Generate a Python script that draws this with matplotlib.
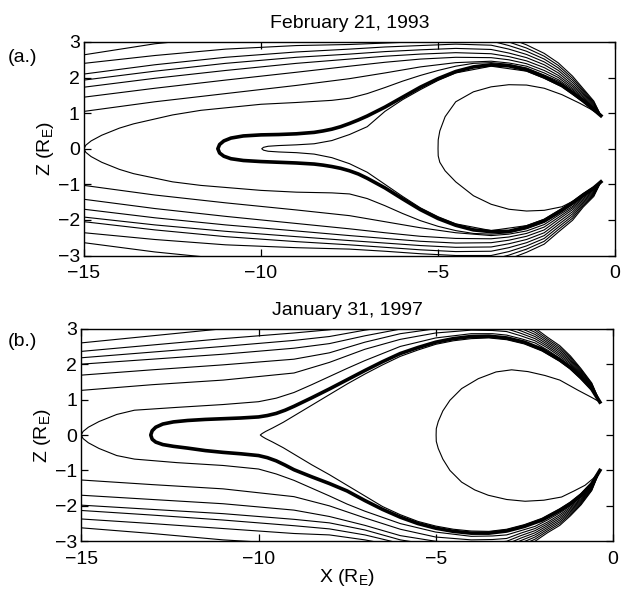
import matplotlib
matplotlib.use("Agg")
import matplotlib.pyplot as plt

plt.rcParams['font.family'] = ['Liberation Sans', 'DejaVu Sans']
plt.rcParams['mathtext.fontset'] = 'custom'
plt.rcParams['mathtext.rm'] = 'Liberation Sans'

# ---------------- panel (a) : February 21, 1993 ----------------
# open / stretched lines, z read on a common x grid (values > 3 are off the frame)
xa_grid = [-15, -13, -11, -9, -7.5, -6.5, -5.5, -4.5, -3.5, -3.0, -2.5, -2.0, -1.6, -1.2, -0.9, -0.6, -0.4]
a_upper = [
    [1.05, 1.32, 1.55, 1.78, 1.97, 2.13, 2.30, 2.42, 2.46, 2.41, 2.32, 2.13, 1.94, 1.66, 1.41, 1.14, 0.93],
    [1.45, 1.70, 1.93, 2.15, 2.32, 2.43, 2.52, 2.57, 2.56, 2.50, 2.39, 2.20, 2.00, 1.70, 1.45, 1.16, 0.93],
    [1.73, 1.98, 2.20, 2.40, 2.52, 2.60, 2.66, 2.70, 2.67, 2.59, 2.47, 2.28, 2.06, 1.75, 1.49, 1.19, 0.93],
    [1.93, 2.18, 2.40, 2.57, 2.66, 2.73, 2.78, 2.82, 2.79, 2.69, 2.56, 2.36, 2.13, 1.80, 1.53, 1.22, 0.93],
    [2.10, 2.36, 2.57, 2.72, 2.80, 2.86, 2.90, 2.94, 2.91, 2.80, 2.65, 2.44, 2.20, 1.86, 1.57, 1.25, 0.93],
    [2.40, 2.62, 2.80, 2.90, 2.93, 2.97, 3.01, 3.05, 3.03, 2.90, 2.74, 2.52, 2.27, 1.92, 1.61, 1.28, 0.93],
    [2.64, 2.95, 3.15, 3.20, 3.20, 3.20, 3.20, 3.18, 3.15, 3.00, 2.83, 2.60, 2.34, 1.98, 1.65, 1.31, 0.93],
    [3.40, 3.40, 3.40, 3.40, 3.40, 3.40, 3.38, 3.32, 3.27, 3.11, 2.92, 2.68, 2.41, 2.04, 1.69, 1.34, 0.93],
]
a_lower = [
    [-1.03, -1.30, -1.52, -1.72, -1.88, -2.05, -2.22, -2.36, -2.44, -2.40, -2.31, -2.13, -1.87, -1.62, -1.36, -1.14, -0.93],
    [-1.42, -1.68, -1.90, -2.10, -2.25, -2.36, -2.46, -2.52, -2.53, -2.48, -2.38, -2.20, -1.93, -1.66, -1.40, -1.16, -0.93],
    [-1.70, -1.94, -2.14, -2.31, -2.44, -2.52, -2.60, -2.65, -2.64, -2.57, -2.46, -2.28, -1.99, -1.71, -1.44, -1.19, -0.93],
    [-1.92, -2.14, -2.32, -2.47, -2.58, -2.65, -2.72, -2.77, -2.76, -2.67, -2.55, -2.36, -2.06, -1.77, -1.48, -1.22, -0.93],
    [-2.05, -2.28, -2.47, -2.61, -2.70, -2.77, -2.84, -2.89, -2.88, -2.78, -2.64, -2.44, -2.13, -1.83, -1.52, -1.25, -0.93],
    [-2.36, -2.55, -2.70, -2.78, -2.82, -2.88, -2.95, -3.00, -3.00, -2.89, -2.73, -2.52, -2.20, -1.89, -1.56, -1.28, -0.93],
    [-2.64, -2.90, -3.10, -3.20, -3.20, -3.20, -3.20, -3.18, -3.12, -2.99, -2.82, -2.60, -2.27, -1.95, -1.60, -1.31, -0.93],
    [-3.40, -3.40, -3.40, -3.40, -3.40, -3.40, -3.38, -3.32, -3.25, -3.10, -2.91, -2.68, -2.34, -2.01, -1.64, -1.34, -0.93],
]
# line that closes at the left edge
a_cusp_x = [-15, -14.95, -14.8, -14.5, -14, -13.6, -12.5, -11.7, -10, -9, -8, -7.5, -7, -6.5,
            -6, -5.5, -5, -4.5, -4, -3.5, -3, -2.5, -2.0, -1.6, -1.2, -0.9, -0.6, -0.4]
a_cusp_up = [0, 0.10, 0.22, 0.38, 0.58, 0.70, 0.95, 1.08, 1.25, 1.30, 1.36, 1.42, 1.55, 1.72,
             1.90, 2.06, 2.20, 2.32, 2.40, 2.42, 2.37, 2.27, 2.07, 1.90, 1.62, 1.38, 1.12, 0.93]
a_cusp_lo = [0, -0.10, -0.22, -0.38, -0.58, -0.70, -0.93, -1.03, -1.17, -1.22, -1.24, -1.27, -1.40, -1.60,
             -1.82, -2.02, -2.18, -2.30, -2.38, -2.40, -2.36, -2.25, -2.07, -1.83, -1.57, -1.34, -1.12, -0.93]
# thick line
a_thick_x = [-11.22, -11.17, -11.05, -10.85, -10.5, -10, -9.5, -9, -8.5, -8.25, -8, -7.75, -7.5, -7.25, -7,
             -6.5, -6, -5.5, -5, -4.5, -4, -3.5, -3, -2.5, -2, -1.5, -1.2, -0.9, -0.6, -0.4]
a_thick_up = [0, 0.12, 0.22, 0.30, 0.36, 0.39, 0.40, 0.42, 0.46, 0.50, 0.55, 0.62, 0.71, 0.81, 0.92,
              1.17, 1.45, 1.73, 1.97, 2.17, 2.30, 2.36, 2.33, 2.22, 2.02, 1.78, 1.57, 1.35, 1.10, 0.93]
a_thick_lo = [0, -0.12, -0.21, -0.28, -0.33, -0.36, -0.38, -0.40, -0.43, -0.46, -0.50, -0.55, -0.62, -0.71, -0.83,
              -1.10, -1.41, -1.71, -1.96, -2.15, -2.28, -2.33, -2.32, -2.20, -2.02, -1.72, -1.52, -1.30, -1.10, -0.93]
# thin line just inside the thick one
a_thin_x = [-9.98, -9.93, -9.8, -9.5, -9.0, -8.5, -8.0, -7.5, -7.0, -6.5, -6.0, -5.5, -5.0, -4.5,
            -3.5, -2.5, -2.0, -1.5, -1.2, -0.9, -0.6, -0.4]
a_thin_up = [0, 0.04, 0.07, 0.09, 0.11, 0.14, 0.23, 0.40, 0.62, 1.05, 1.38, 1.66, 1.92, 2.13,
             2.32, 2.18, 1.98, 1.74, 1.53, 1.31, 1.07, 0.93]
a_thin_lo = [0, -0.04, -0.07, -0.09, -0.11, -0.15, -0.25, -0.42, -0.66, -1.00, -1.34, -1.66, -1.91, -2.11,
             -2.30, -2.16, -1.98, -1.68, -1.48, -1.26, -1.07, -0.93]
# dipolar loop near the Earth
a_loop_x = [-0.4, -0.7, -1.0, -1.5, -2.0, -2.5, -3.0, -3.5, -4.0, -4.5, -4.8, -4.95, -4.995, -5.0,
            -4.995, -4.95, -4.8, -4.5, -4.0, -3.5, -3.0, -2.5, -2.0, -1.5, -1.0, -0.7, -0.4]
a_loop_z = [0.93, 1.12, 1.28, 1.52, 1.70, 1.79, 1.80, 1.74, 1.60, 1.32, 0.90, 0.50, 0.25, 0.0,
            -0.20, -0.38, -0.62, -0.93, -1.32, -1.56, -1.70, -1.75, -1.73, -1.63, -1.38, -1.16, -0.93]

# ---------------- panel (b) : January 31, 1997 ----------------
xb_grid = [-15, -13, -11, -9, -8, -7, -6, -5, -4, -3.4, -3, -2.6, -2.2, -1.85, -1.5, -1.2, -0.9, -0.6, -0.37]
b_upper = [
    [1.26, 1.42, 1.55, 1.75, 2.05, 2.42, 2.70, 2.88, 2.96, 2.95, 2.92, 2.80, 2.66, 2.46, 2.22, 1.99, 1.69, 1.35, 0.93],
    [1.69, 1.84, 1.98, 2.14, 2.32, 2.62, 2.86, 3.00, 3.06, 3.04, 3.00, 2.87, 2.72, 2.51, 2.27, 2.03, 1.72, 1.37, 0.93],
    [2.00, 2.14, 2.28, 2.45, 2.58, 2.80, 2.99, 3.12, 3.16, 3.13, 3.08, 2.94, 2.78, 2.56, 2.32, 2.07, 1.75, 1.39, 0.93],
    [2.18, 2.34, 2.50, 2.67, 2.78, 2.96, 3.10, 3.22, 3.26, 3.22, 3.16, 3.01, 2.84, 2.61, 2.37, 2.11, 1.78, 1.41, 0.93],
    [2.36, 2.54, 2.72, 2.88, 2.97, 3.10, 3.20, 3.30, 3.35, 3.30, 3.24, 3.08, 2.90, 2.66, 2.42, 2.15, 1.81, 1.43, 0.93],
    [2.60, 2.80, 3.00, 3.12, 3.20, 3.30, 3.35, 3.40, 3.42, 3.38, 3.32, 3.15, 2.96, 2.71, 2.47, 2.19, 1.84, 1.45, 0.93],
    [3.40, 3.40, 3.40, 3.40, 3.40, 3.40, 3.45, 3.50, 3.50, 3.47, 3.40, 3.22, 3.02, 2.76, 2.52, 2.23, 1.87, 1.47, 0.93],
]
b_lower = [
    [-1.27, -1.40, -1.52, -1.74, -2.00, -2.34, -2.66, -2.88, -2.96, -2.95, -2.92, -2.77, -2.64, -2.46, -2.25, -2.04, -1.79, -1.45, -1.0],
    [-1.70, -1.82, -1.94, -2.12, -2.30, -2.55, -2.84, -3.00, -3.06, -3.04, -3.00, -2.84, -2.70, -2.51, -2.30, -2.08, -1.82, -1.47, -1.0],
    [-1.98, -2.10, -2.22, -2.38, -2.48, -2.68, -2.96, -3.12, -3.16, -3.13, -3.08, -2.91, -2.76, -2.56, -2.35, -2.12, -1.85, -1.49, -1.0],
    [-2.13, -2.26, -2.40, -2.56, -2.65, -2.82, -3.06, -3.20, -3.26, -3.22, -3.16, -2.98, -2.82, -2.61, -2.40, -2.16, -1.88, -1.51, -1.0],
    [-2.37, -2.50, -2.64, -2.78, -2.82, -2.96, -3.15, -3.30, -3.35, -3.30, -3.24, -3.05, -2.88, -2.66, -2.45, -2.20, -1.91, -1.53, -1.0],
    [-2.62, -2.78, -2.96, -3.08, -3.15, -3.25, -3.35, -3.40, -3.42, -3.38, -3.32, -3.12, -2.94, -2.71, -2.50, -2.24, -1.94, -1.55, -1.0],
    [-3.40, -3.40, -3.40, -3.40, -3.40, -3.40, -3.45, -3.50, -3.50, -3.47, -3.40, -3.19, -3.00, -2.76, -2.55, -2.28, -1.97, -1.57, -1.0],
]
b_cusp_x = [-15, -14.95, -14.8, -14.5, -14, -13.5, -12.3, -11, -10, -9.5, -9, -8.5, -8, -7.5, -7,
            -6, -5, -4, -3.4, -3, -2.6, -2.2, -1.85, -1.5, -1.2, -0.9, -0.6, -0.37]
b_cusp_up = [0, 0.10, 0.22, 0.38, 0.58, 0.70, 0.78, 0.86, 0.94, 1.04, 1.20, 1.42, 1.65, 1.88, 2.10,
             2.50, 2.74, 2.86, 2.86, 2.82, 2.72, 2.60, 2.40, 2.17, 1.95, 1.66, 1.33, 0.93]
b_cusp_lo = [0, -0.10, -0.22, -0.38, -0.58, -0.68, -0.78, -0.86, -0.96, -1.10, -1.28, -1.50, -1.72, -1.95, -2.15,
             -2.50, -2.74, -2.86, -2.85, -2.82, -2.70, -2.58, -2.40, -2.20, -2.00, -1.75, -1.42, -1.0]
b_thick_x = [-13.04, -13.0, -12.9, -12.7, -12.4, -12, -11.5, -11, -10.5, -10, -9.75, -9.5, -9.25, -9, -8.5, -8, -7.5,
             -7, -6.5, -6, -5.5, -5, -4.5, -4, -3.5, -3, -2.5, -2, -1.5, -1.2, -0.9, -0.6, -0.37]
b_thick_up = [0, 0.12, 0.22, 0.31, 0.37, 0.41, 0.44, 0.46, 0.48, 0.51, 0.55, 0.61, 0.70, 0.81, 1.05, 1.30, 1.56,
              1.82, 2.07, 2.30, 2.47, 2.62, 2.72, 2.78, 2.79, 2.74, 2.62, 2.42, 2.12, 1.90, 1.62, 1.30, 0.93]
b_thick_lo = [0, -0.12, -0.20, -0.27, -0.32, -0.37, -0.44, -0.49, -0.53, -0.58, -0.64, -0.73, -0.85, -0.98, -1.18, -1.37, -1.58,
              -1.85, -2.10, -2.32, -2.50, -2.63, -2.72, -2.77, -2.77, -2.71, -2.58, -2.40, -2.13, -1.94, -1.70, -1.38, -1.0]
b_thin_x = [-9.95, -9.9, -9.8, -9.6, -9.3, -9.0, -8.5, -8.0, -7.5, -7.0, -6.5, -6.0, -5.5, -5.0, -4.5,
            -4.0, -3.5, -3.0, -2.5, -2.0, -1.5, -1.2, -0.9, -0.6, -0.37]
b_thin_up = [0, 0.04, 0.10, 0.20, 0.36, 0.54, 0.84, 1.14, 1.44, 1.72, 1.98, 2.22, 2.40, 2.56, 2.66,
             2.72, 2.74, 2.69, 2.57, 2.37, 2.08, 1.86, 1.58, 1.27, 0.93]
b_thin_lo = [0, -0.04, -0.10, -0.20, -0.36, -0.54, -0.84, -1.12, -1.42, -1.72, -2.02, -2.25, -2.44, -2.57, -2.66,
             -2.71, -2.72, -2.66, -2.53, -2.35, -2.08, -1.89, -1.65, -1.34, -1.0]
b_loop_x = [-0.37, -0.6, -0.98, -1.5, -1.92, -2.4, -2.86, -3.3, -3.8, -4.27, -4.6, -4.8, -4.93, -4.985, -4.99,
            -4.985, -4.93, -4.8, -4.6, -4.27, -3.9, -3.52, -3.0, -2.48, -1.95, -1.45, -1.1, -0.79, -0.55, -0.37]
b_loop_z = [0.93, 1.06, 1.26, 1.55, 1.68, 1.79, 1.84, 1.78, 1.59, 1.31, 0.98, 0.68, 0.38, 0.18, 0.0,
            -0.18, -0.38, -0.68, -1.00, -1.33, -1.55, -1.70, -1.82, -1.87, -1.84, -1.75, -1.58, -1.42, -1.22, -1.0]

THIN = 0.8
THICK = 2.6
FS = 14


def closed(x, up, lo):
    # upper branch reversed + lower branch -> one path through the nose
    return list(x[::-1]) + list(x[1:]), list(up[::-1]) + list(lo[1:])


def draw_panel(ax, grid, upper, lower, cx, cup, clo, tx, tup, tlo, nx, nup, nlo, lx, lz):
    for z in upper + lower:
        ax.plot(grid, z, color='k', lw=THIN)
    px, pz = closed(cx, cup, clo)
    ax.plot(px, pz, color='k', lw=THIN)
    px, pz = closed(nx, nup, nlo)
    ax.plot(px, pz, color='k', lw=THIN)
    ax.plot(lx, lz, color='k', lw=THIN)
    px, pz = closed(tx, tup, tlo)
    ax.plot(px, pz, color='k', lw=THICK, solid_joinstyle='round')

    ax.set_xlim(-15, 0)
    ax.set_ylim(-3, 3)
    ax.set_xticks([-15, -10, -5, 0])
    ax.set_yticks([-3, -2, -1, 0, 1, 2, 3])
    ax.tick_params(direction='in', top=True, right=True, length=5, width=0.9, labelsize=FS)
    ax.tick_params(axis='x', pad=7)
    ax.tick_params(axis='y', pad=3)
    for s in ax.spines.values():
        s.set_linewidth(1.0)
    ax.set_ylabel('Z (R$_\\mathrm{E}$)', fontsize=FS, labelpad=1)


fig = plt.figure(figsize=(6.21, 5.89), dpi=100)
ax1 = fig.add_axes([0.1353, 0.5662, 0.8551, 0.3625])
ax2 = fig.add_axes([0.1309, 0.0810, 0.8562, 0.3609])

draw_panel(ax1, xa_grid, a_upper, a_lower, a_cusp_x, a_cusp_up, a_cusp_lo,
           a_thick_x, a_thick_up, a_thick_lo, a_thin_x, a_thin_up, a_thin_lo, a_loop_x, a_loop_z)
draw_panel(ax2, xb_grid, b_upper, b_lower, b_cusp_x, b_cusp_up, b_cusp_lo,
           b_thick_x, b_thick_up, b_thick_lo, b_thin_x, b_thin_up, b_thin_lo, b_loop_x, b_loop_z)

ax1.set_title('February 21, 1993', fontsize=FS, pad=10)
ax2.set_title('January 31, 1997', fontsize=FS, pad=10)
ax2.set_xlabel('X (R$_\\mathrm{E}$)', fontsize=FS, labelpad=-1)

fig.text(0.012, 1 - 57 / 589, '(a.)', fontsize=FS, va='center')
fig.text(0.012, 1 - 342 / 589, '(b.)', fontsize=FS, va='center')

fig.savefig('out.png', dpi=100)
